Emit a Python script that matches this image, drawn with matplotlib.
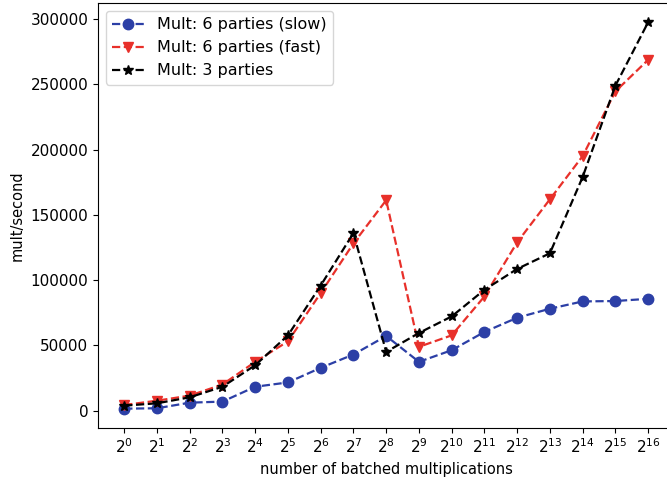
import matplotlib
matplotlib.use("Agg")
import matplotlib.pyplot as plt

# x positions are exponents: 2^0 .. 2^16
exponents = list(range(17))
tick_labels = [f"$2^{{{e}}}$" for e in exponents]

slow_6 = [1500, 1800, 6100, 6900, 18300, 21600, 32800, 43000, 57200, 37400,
          46300, 60300, 71200, 78100, 83700, 84000, 85700]
fast_6 = [4300, 7600, 11500, 20000, 37400, 53100, 90100, 128200, 161300, 48900,
          57700, 87500, 129000, 162000, 195100, 244700, 268900]
three_p = [3800, 5600, 10200, 18300, 34800, 57700, 95900, 136100, 45000, 59500,
           72200, 92600, 108600, 120600, 179100, 249100, 297700]

fig = plt.figure(figsize=(6.67, 4.88), dpi=100)
ax = fig.add_axes([0.147, 0.123, 0.864, 0.871])

ax.plot(exponents, slow_6, "--o", color="#2c3fa6", lw=1.6, ms=7.5,
        label="Mult: 6 parties (slow)")
ax.plot(exponents, fast_6, "--v", color="#e8302a", lw=1.6, ms=7,
        label="Mult: 6 parties (fast)")
ax.plot(exponents, three_p, "--*", color="black", lw=1.6, ms=7.5,
        label="Mult: 3 parties")

ax.set_xticks(exponents)
ax.set_xticklabels(tick_labels, fontsize=11)
ax.tick_params(axis="y", labelsize=11)
ax.set_xlabel("number of batched multiplications", fontsize=10.5)
ax.set_ylabel("mult/second", fontsize=10.5)
ax.legend(loc="upper left", fontsize=11.5)

fig.savefig("out.png", dpi=100)
